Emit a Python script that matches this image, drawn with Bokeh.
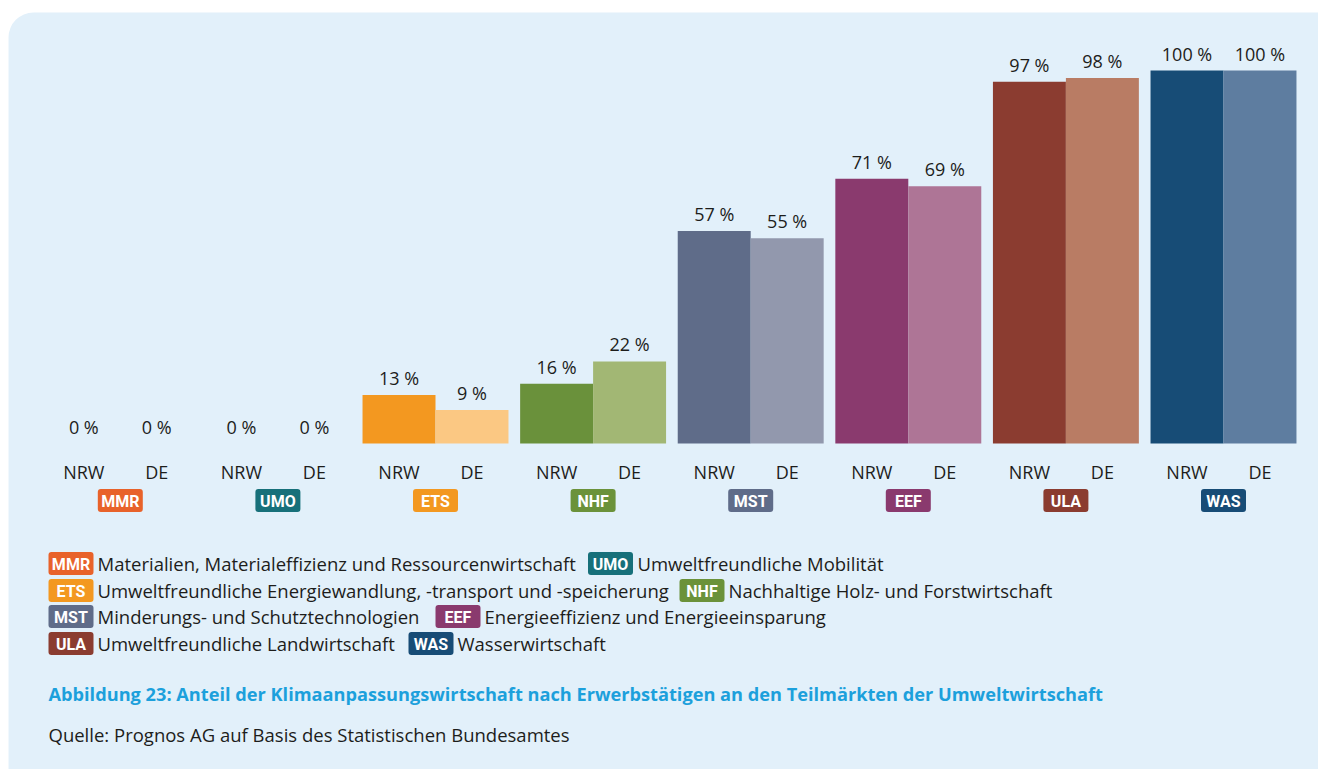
from bokeh.plotting import figure
from bokeh.models import ColumnDataSource, Label, BoxAnnotation, Range1d
from bokeh.core.properties import value
from bokeh.embed import file_html
from bokeh.resources import INLINE

# ---------------- data ----------------
codes = ["MMR", "UMO", "ETS", "NHF", "MST", "EEF", "ULA", "WAS"]
series = ["NRW", "DE"]
nrw_values = [0, 0, 13, 16, 57, 71, 97, 100]
de_values = [0, 0, 9, 22, 55, 69, 98, 100]
badge_colors = ["#e8622a", "#17707a", "#f39820", "#6b923a", "#5f6c89", "#8a3a6e", "#8b3c30", "#174c76"]
nrw_colors = ["#e8622a", "#17707a", "#f39820", "#6a913b", "#5f6c89", "#8a3a6e", "#8b3c30", "#174c76"]
de_colors = ["#f4a27e", "#6fa9b0", "#fbc883", "#a2b774", "#9298ad", "#ae7596", "#b97c64", "#5e7da0"]
legend_names = [
    "Materialien, Materialeffizienz und Ressourcenwirtschaft",
    "Umweltfreundliche Mobilität",
    "Umweltfreundliche Energiewandlung, -transport und -speicherung",
    "Nachhaltige Holz- und Forstwirtschaft",
    "Minderungs- und Schutztechnologien",
    "Energieeffizienz und Energieeinsparung",
    "Umweltfreundliche Landwirtschaft",
    "Wasserwirtschaft",
]
caption = ("Abbildung 23: Anteil der Klimaanpassungswirtschaft nach Erwerbstätigen "
           "an den Teilmärkten der Umweltwirtschaft")
source_note = "Quelle: Prognos AG auf Basis des Statistischen Bundesamtes"

# ---------------- layout ----------------
W, H = 1318, 769
KX = 157.6              # px per group
FIRST_CENTER = 119.8    # page x of first group centre
BASE = 443              # page y of 0 %
KY = 3.73               # px per percent
XS = -FIRST_CENTER / KX
XE = XS + W / KX
YE = BASE / KY
YS = YE - H / KY
BAR_W = 0.463
HALF = BAR_W / 2
BADGE_W, BADGE_H = 45, 23

def dx(page_x):
    return XS + page_x / KX

def dy(page_y):
    return (BASE - page_y) / KY

def sx(page_x):
    return page_x

def sy(page_y):
    return H - page_y

TEXT = "#1d1d1b"
BG = "#e2f0fa"

p = figure(width=W, height=H, output_backend="svg", toolbar_location=None,
           x_range=Range1d(XS, XE), y_range=Range1d(YS, YE),
           x_axis_location=None, y_axis_location=None,
           min_border=0, min_border_left=0, min_border_right=0,
           min_border_top=0, min_border_bottom=0)
p.outline_line_color = None
p.background_fill_color = "white"
p.border_fill_color = "white"
p.grid.visible = False

panel = BoxAnnotation(left=dx(8), right=XE + 1, top=dy(12), bottom=YS - 1,
                      fill_color=BG, fill_alpha=1.0, line_color=None,
                      border_radius=(25, 0, 0, 0), level="underlay")
p.add_layout(panel)

idx = list(range(len(codes)))
src = ColumnDataSource(dict(
    x=idx, code=codes, bcol=badge_colors,
    x_nrw=[i - HALF for i in idx], x_de=[i + HALF for i in idx],
    nrw=nrw_values, de=de_values, c_nrw=nrw_colors, c_de=de_colors,
    l_nrw=[f"{v} %" for v in nrw_values], l_de=[f"{v} %" for v in de_values],
    s_nrw=[series[0]] * len(codes), s_de=[series[1]] * len(codes),
))

p.vbar(x="x_nrw", top="nrw", bottom=0, width=BAR_W, fill_color="c_nrw", line_color=None, source=src)
p.vbar(x="x_de", top="de", bottom=0, width=BAR_W, fill_color="c_de", line_color=None, source=src)

for xcol, ycol, lcol in (("x_nrw", "nrw", "l_nrw"), ("x_de", "de", "l_de")):
    p.text(x=xcol, y=ycol, text=lcol, source=src, text_align="center",
           text_baseline="alphabetic", y_offset=-17,
           text_font=value("Open Sans"), text_font_size="18px", text_color=TEXT)

label_y = dy(471)
for xcol, scol in (("x_nrw", "s_nrw"), ("x_de", "s_de")):
    p.text(x=xcol, y=label_y, text=scol, source=src, text_align="center",
           text_baseline="middle", text_font=value("Open Sans"),
           text_font_size="18px", text_color=TEXT)

BADGE_TEXT = dict(text_align="center", text_baseline="middle", text_color="white",
                  text_font=value("Roboto"), text_font_style="bold", text_font_size="16px")

# group badges below the categories
half_bw = BADGE_W / 2 / KX
p.quad(left=[i - half_bw for i in idx], right=[i + half_bw for i in idx],
       top=dy(500 - BADGE_H / 2), bottom=dy(500 + BADGE_H / 2),
       fill_color=badge_colors, line_color=None, border_radius=3)
p.text(x="x", y=dy(501), text="code", source=src, **BADGE_TEXT)

# legend: (code index, badge left page x, text start page x, row page y)
legend_layout = [
    (0, 48, 97, 563), (1, 587.5, 637, 563),
    (2, 48, 97, 590), (3, 679, 728, 590),
    (4, 48, 97, 616), (5, 435, 484, 616),
    (6, 48, 97, 643), (7, 408, 457, 643),
]
lk = [k for k, _, _, _ in legend_layout]
lb = [b for _, b, _, _ in legend_layout]
lt = [t for _, _, t, _ in legend_layout]
lr = [r for _, _, _, r in legend_layout]
p.quad(left=[dx(b) for b in lb], right=[dx(b + BADGE_W) for b in lb],
       top=[dy(r - BADGE_H / 2) for r in lr], bottom=[dy(r + BADGE_H / 2) for r in lr],
       fill_color=[badge_colors[k] for k in lk], line_color=None, border_radius=3)
p.text(x=[dx(b + BADGE_W / 2) for b in lb], y=[dy(r + 1) for r in lr],
       text=[codes[k] for k in lk], **BADGE_TEXT)
p.text(x=[dx(t) for t in lt], y=[dy(r) for r in lr], text=[legend_names[k] for k in lk],
       text_align="left", text_baseline="middle", text_font=value("Open Sans"),
       text_font_size="18.5px", text_color=TEXT)

p.add_layout(Label(x=sx(48), y=sy(693), x_units="screen", y_units="screen",
                   text=caption, text_align="left", text_baseline="middle",
                   text_font="Open Sans", text_font_style="bold", text_font_size="18.2px",
                   text_color="#1ca0dc"))
p.add_layout(Label(x=sx(48), y=sy(734), x_units="screen", y_units="screen",
                   text=source_note, text_align="left", text_baseline="middle",
                   text_font="Open Sans", text_font_size="18.5px", text_color=TEXT))

open("out.html", "w").write(file_html(p, INLINE))
